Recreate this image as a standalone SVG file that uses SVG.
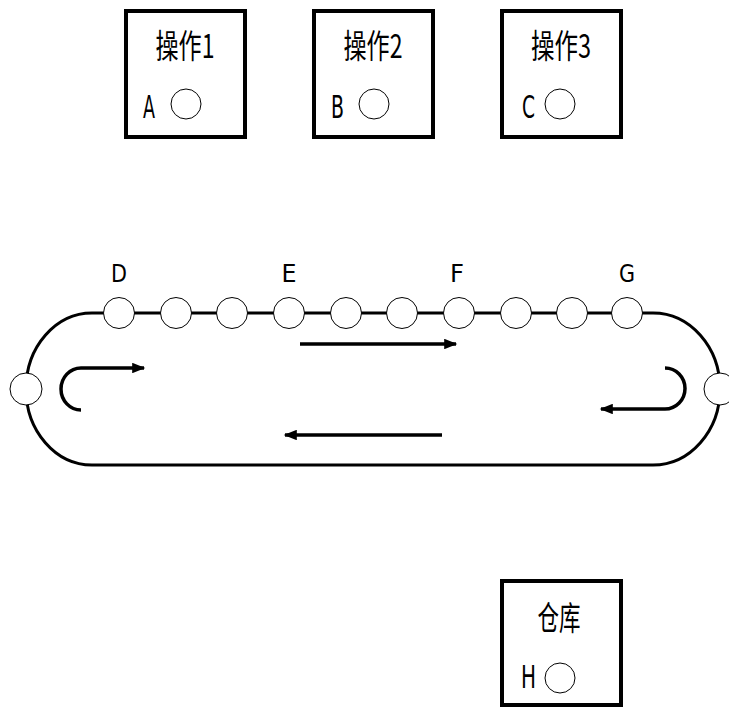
<svg xmlns="http://www.w3.org/2000/svg" width="729" height="708" viewBox="0 0 729 708">
<defs>
<style>
.box{fill:#fff;stroke:#000;stroke-width:4}
.c{fill:#fff;stroke:#000;stroke-width:1}
.t{font-family:"Noto Sans CJK SC","DejaVu Sans",sans-serif;font-size:33px;fill:#000}
.l{font-family:"DejaVu Sans","Liberation Sans",sans-serif;font-size:32px;fill:#000}
.lb{font-family:"DejaVu Sans","Liberation Sans",sans-serif;font-size:25px;fill:#000}
.belt{fill:none;stroke:#000;stroke-width:3}
.arr{fill:none;stroke:#000;stroke-width:3.5;marker-end:url(#ah)}
</style>
<marker id="ah" viewBox="0 0 10 8" refX="9" refY="4" markerWidth="5" markerHeight="3" markerUnits="strokeWidth" orient="auto">
<path d="M0,0 L10,4 L0,8 Z" fill="#000"/>
</marker>
</defs>
<rect width="729" height="708" fill="#fff"/>
<g id="op1">
<rect class="box" x="126" y="11" width="119" height="126"/>
<text class="t" x="185" y="58" text-anchor="middle" textLength="59" lengthAdjust="spacingAndGlyphs">操作1</text>
<text class="l" x="143" y="118" textLength="12" lengthAdjust="spacingAndGlyphs">A</text>
<circle class="c" cx="186" cy="104" r="15"/>
</g>
<g id="op2">
<rect class="box" x="314" y="11" width="119" height="126"/>
<text class="t" x="373" y="58" text-anchor="middle" textLength="59" lengthAdjust="spacingAndGlyphs">操作2</text>
<text class="l" x="331" y="118" textLength="13" lengthAdjust="spacingAndGlyphs">B</text>
<circle class="c" cx="374" cy="104" r="15"/>
</g>
<g id="op3">
<rect class="box" x="502" y="11" width="119" height="126"/>
<text class="t" x="561" y="58" text-anchor="middle" textLength="60" lengthAdjust="spacingAndGlyphs">操作3</text>
<text class="l" x="522" y="118" textLength="13" lengthAdjust="spacingAndGlyphs">C</text>
<circle class="c" cx="560" cy="104" r="15"/>
</g>
<g id="warehouse">
<rect class="box" x="502" y="581" width="119" height="124"/>
<text class="t" x="559" y="630" text-anchor="middle" textLength="43" lengthAdjust="spacingAndGlyphs">仓库</text>
<text class="l" x="521" y="688" textLength="15" lengthAdjust="spacingAndGlyphs">H</text>
<circle class="c" cx="560" cy="678" r="15"/>
</g>
<g id="connectors">
<path class="belt" d="M92,313 L653,313 A67,76 0 0 1 653,465 L92,465 A66,76 0 0 1 92,313 Z"/>
<path class="arr" d="M300,344 L456,344"/>
<path class="arr" d="M442,435 L285,435"/>
<path class="arr" d="M81,410 A20,21 0 0 1 81,368 L144,368"/>
<path class="arr" d="M665,368 A20,20.5 0 0 1 665,409 L601,409"/>
</g>
<g id="stations">
<circle class="c" cx="119" cy="313" r="15.5"/>
<circle class="c" cx="176" cy="313" r="15.5"/>
<circle class="c" cx="232" cy="313" r="15.5"/>
<circle class="c" cx="289" cy="313" r="15.5"/>
<circle class="c" cx="346" cy="313" r="15.5"/>
<circle class="c" cx="402" cy="313" r="15.5"/>
<circle class="c" cx="459" cy="313" r="15.5"/>
<circle class="c" cx="516" cy="313" r="15.5"/>
<circle class="c" cx="572" cy="313" r="15.5"/>
<circle class="c" cx="627" cy="313" r="15.5"/>
<circle class="c" cx="26" cy="389" r="16"/>
<circle class="c" cx="720" cy="389" r="16"/>
</g>
<g id="labels">
<text class="lb" x="119" y="282" text-anchor="middle" textLength="16" lengthAdjust="spacingAndGlyphs">D</text>
<text class="lb" x="289" y="282" text-anchor="middle" textLength="15" lengthAdjust="spacingAndGlyphs">E</text>
<text class="lb" x="457" y="282" text-anchor="middle" textLength="14" lengthAdjust="spacingAndGlyphs">F</text>
<text class="lb" x="627" y="282" text-anchor="middle" textLength="16" lengthAdjust="spacingAndGlyphs">G</text>
</g>
</svg>
